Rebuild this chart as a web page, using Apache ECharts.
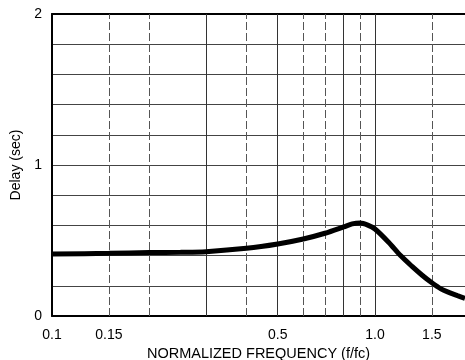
<!DOCTYPE html>
<html><head><meta charset="utf-8">
<script src="https://cdn.jsdelivr.net/npm/echarts@6/dist/echarts.min.js"></script>
<style>html,body{margin:0;padding:0;background:#fff}#c{width:465px;height:360px}</style>
</head><body><div id="c"></div>
<script>
const freq = [0.1,0.15,0.2,0.25,0.3,0.4,0.5,0.6,0.7,0.8,0.85,0.9,0.95,1.0,1.1,1.2,1.3,1.4,1.5,1.6,1.7,1.8,1.9];
const delay = [0.41,0.415,0.42,0.422,0.426,0.448,0.477,0.51,0.548,0.59,0.61,0.616,0.602,0.576,0.49,0.40,0.33,0.27,0.22,0.18,0.155,0.135,0.117];
const gridFreqs = [0.15,0.2,0.3,0.4,0.5,0.6,0.7,0.8,0.9,1.0,1.5];
const dashedFreqs = [0.15,0.2,0.4,0.6,0.7,0.9,1.5];
const xTickLabels = {0.1:'0.1',0.15:'0.15',0.5:'0.5',1.0:'1.0',1.5:'1.5'};
const yLabels = [0,1,2];

const font = 'Liberation Sans, Arial, Helvetica, sans-serif';
const chart = echarts.init(document.getElementById('c'), null, {renderer:'canvas'});

const markData = [{xAxis:0.1, lineStyle:{color:'rgba(0,0,0,0)', width:1}}].concat(gridFreqs.map(f => ({
  xAxis: f,
  lineStyle: {color: dashedFreqs.includes(f) ? '#555' : '#333', width: 1, type: dashedFreqs.includes(f) ? [8,3] : 'solid'}
})));

chart.setOption({
  animation:false,
  grid:{left:52, top:14, right:0, bottom:44, containLabel:false, outerBoundsMode:'none'},
  xAxis:[{
    type:'log', logBase:10, min:0.1, max:1.9,
    axisLine:{show:true, lineStyle:{color:'#000', width:2}},
    axisTick:{show:false}, axisLabel:{show:false}, splitLine:{show:false},
    name:'NORMALIZED FREQUENCY (f/fc)', nameLocation:'middle', nameGap:30,
    nameTextStyle:{color:'#000', fontSize:14.5, fontFamily:font}
  },{
    type:'log', logBase:10, min:0.1, max:1.9, position:'top',
    axisLine:{show:true, lineStyle:{color:'#000', width:2}},
    axisTick:{show:false}, axisLabel:{show:false}, splitLine:{show:false}
  }],
  yAxis:{
    type:'value', min:0, max:2, interval:0.2,
    axisLine:{show:true, lineStyle:{color:'#000', width:2}},
    axisTick:{show:false},
    axisLabel:{color:'#000', fontSize:14, fontFamily:font, margin:10,
      formatter: v => yLabels.some(l => Math.abs(l - v) < 1e-6) ? String(Math.round(v)) : ''},
    splitLine:{show:true, lineStyle:{color:'#444', width:1}},
    name:'Delay (sec)', nameLocation:'middle', nameGap:28,
    nameTextStyle:{color:'#000', fontSize:14, fontFamily:font}
  },
  series:[{
    type:'line', xAxisIndex:0,
    data: freq.map((f,i) => [f, delay[i]]),
    smooth:0.3, symbol:'none',
    lineStyle:{color:'#000', width:5},
    z:5,
    markLine:{
      silent:true, symbol:['none','none'],
      label:{show:true, position:'start', distance:12, color:'#000', fontSize:14, fontFamily:font,
        formatter: p => xTickLabels[p.value] || ''},
      data: markData
    }
  }]
});
</script></body></html>
